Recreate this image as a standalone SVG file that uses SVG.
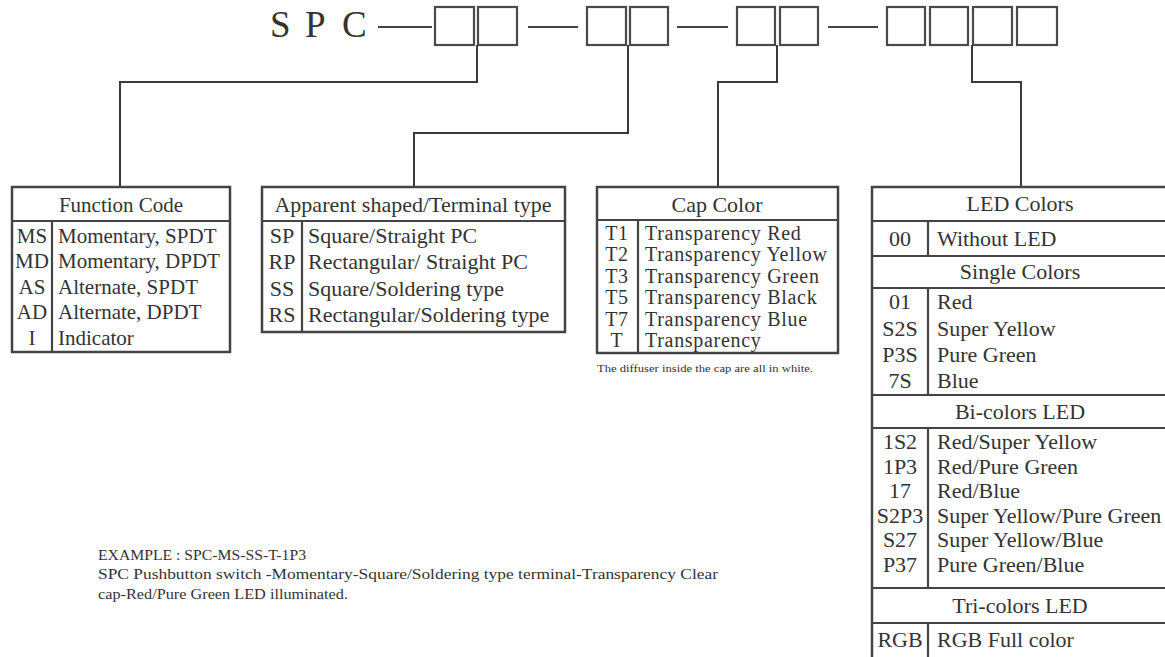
<svg xmlns="http://www.w3.org/2000/svg" width="1165" height="657" viewBox="0 0 1165 657">
<style>
text{font-family:"Liberation Serif","Times New Roman",serif;fill:#333}
.t{font-size:22px}
.f{font-size:21px}
.k{font-size:20px;letter-spacing:0.7px}
.c{text-anchor:middle}
.box{fill:none;stroke:#444;stroke-width:2.5}
.ln{fill:none;stroke:#444;stroke-width:2.2}
.sq{fill:#fff;stroke:#4a4a4a;stroke-width:2.2}
.con{fill:none;stroke:#3a3a3a;stroke-width:2}
.ex{font-size:15px}
</style>
<rect width="1165" height="657" fill="#fff"/>
<g id="code">
<text x="270" y="37" style="font-size:37px">S</text>
<text x="305" y="37" style="font-size:37px">P</text>
<text x="342" y="37" style="font-size:37px">C</text>
<g class="ln">
<line x1="378" y1="27" x2="432" y2="27"/>
<line x1="528" y1="27" x2="578" y2="27"/>
<line x1="677" y1="27" x2="728" y2="27"/>
<line x1="828" y1="27" x2="878" y2="27"/>
</g>
<g class="sq">
<rect x="435" y="7" width="39" height="38"/>
<rect x="478" y="7" width="39" height="38"/>
<rect x="587" y="7" width="39" height="38"/>
<rect x="630" y="7" width="38" height="38"/>
<rect x="737" y="7" width="38" height="38"/>
<rect x="780" y="7" width="38" height="38"/>
<rect x="887" y="7" width="38" height="38"/>
<rect x="930" y="7" width="38" height="38"/>
<rect x="973" y="7" width="39" height="38"/>
<rect x="1017" y="7" width="40" height="38"/>
</g>
</g>
<g id="connectors" class="con">
<polyline points="477,45 477,82 120,82 120,187"/>
<polyline points="628,45 628,133 414,133 414,187"/>
<polyline points="777,45 777,82 718,82 718,187"/>
<polyline points="972,45 972,82 1021,82 1021,187"/>
</g>
<g id="function-code">
<rect class="box" x="12" y="187" width="218" height="165"/>
<line class="ln" x1="12" y1="221" x2="230" y2="221"/>
<line class="ln" x1="52" y1="221" x2="52" y2="352"/>
<text class="f c" x="121" y="212">Function Code</text>
<text class="f c" x="32" y="243">MS</text><text class="f" x="58" y="243">Momentary, SPDT</text>
<text class="f c" x="32" y="268">MD</text><text class="f" x="58" y="268">Momentary, DPDT</text>
<text class="f c" x="32" y="294">AS</text><text class="f" x="58" y="294">Alternate, SPDT</text>
<text class="f c" x="32" y="319">AD</text><text class="f" x="58" y="319">Alternate, DPDT</text>
<text class="f c" x="32" y="345">I</text><text class="f" x="58" y="345">Indicator</text>
</g>
<g id="terminal-type">
<rect class="box" x="262" y="187" width="303" height="145"/>
<line class="ln" x1="262" y1="221" x2="565" y2="221"/>
<line class="ln" x1="302" y1="221" x2="302" y2="332"/>
<text class="t c" x="413" y="212">Apparent shaped/Terminal type</text>
<text class="t c" x="282" y="243">SP</text><text class="t" x="308" y="243">Square/Straight PC</text>
<text class="t c" x="282" y="269">RP</text><text class="t" x="308" y="269">Rectangular/ Straight PC</text>
<text class="t c" x="282" y="296">SS</text><text class="t" x="308" y="296">Square/Soldering type</text>
<text class="t c" x="282" y="322">RS</text><text class="t" x="308" y="322">Rectangular/Soldering type</text>
</g>
<g id="cap-color">
<rect class="box" x="597" y="187" width="241" height="166"/>
<line class="ln" x1="597" y1="220" x2="838" y2="220"/>
<line class="ln" x1="638" y1="220" x2="638" y2="353"/>
<text class="t c" x="717" y="212">Cap Color</text>
<text class="k c" x="617" y="240">T1</text><text class="k" x="645" y="240">Transparency Red</text>
<text class="k c" x="617" y="261">T2</text><text class="k" x="645" y="261">Transparency Yellow</text>
<text class="k c" x="617" y="283">T3</text><text class="k" x="645" y="283">Transparency Green</text>
<text class="k c" x="617" y="304">T5</text><text class="k" x="645" y="304">Transparency Black</text>
<text class="k c" x="617" y="326">T7</text><text class="k" x="645" y="326">Transparency Blue</text>
<text class="k c" x="617" y="347">T</text><text class="k" x="645" y="347">Transparency</text>
<text x="597" y="372" style="font-size:11px" textLength="216" lengthAdjust="spacingAndGlyphs">The diffuser inside the cap are all in white.</text>
</g>
<g id="led-colors">
<rect class="box" x="872" y="187" width="296" height="475"/>
<g class="ln">
<line x1="872" y1="221" x2="1168" y2="221"/>
<line x1="872" y1="256" x2="1168" y2="256"/>
<line x1="872" y1="288" x2="1168" y2="288"/>
<line x1="872" y1="395" x2="1168" y2="395"/>
<line x1="872" y1="428" x2="1168" y2="428"/>
<line x1="872" y1="588" x2="1168" y2="588"/>
<line x1="872" y1="623" x2="1168" y2="623"/>
<line x1="928" y1="221" x2="928" y2="256"/>
<line x1="928" y1="288" x2="928" y2="395"/>
<line x1="928" y1="428" x2="928" y2="588"/>
<line x1="928" y1="623" x2="928" y2="662"/>
</g>
<text class="t c" x="1020" y="211">LED Colors</text>
<text class="t c" x="900" y="246">00</text><text class="t" x="937" y="246">Without LED</text>
<text class="t c" x="1020" y="279">Single Colors</text>
<text class="t c" x="900" y="309">01</text><text class="t" x="937" y="309">Red</text>
<text class="t c" x="900" y="336">S2S</text><text class="t" x="937" y="336">Super Yellow</text>
<text class="t c" x="900" y="362">P3S</text><text class="t" x="937" y="362">Pure Green</text>
<text class="t c" x="900" y="388">7S</text><text class="t" x="937" y="388">Blue</text>
<text class="t c" x="1020" y="419">Bi-colors LED</text>
<text class="t c" x="900" y="449">1S2</text><text class="t" x="937" y="449">Red/Super Yellow</text>
<text class="t c" x="900" y="474">1P3</text><text class="t" x="937" y="474">Red/Pure Green</text>
<text class="t c" x="900" y="498">17</text><text class="t" x="937" y="498">Red/Blue</text>
<text class="t c" x="900" y="523">S2P3</text><text class="t" x="937" y="523">Super Yellow/Pure Green</text>
<text class="t c" x="900" y="547">S27</text><text class="t" x="937" y="547">Super Yellow/Blue</text>
<text class="t c" x="900" y="572">P37</text><text class="t" x="937" y="572">Pure Green/Blue</text>
<text class="t c" x="1020" y="613">Tri-colors LED</text>
<text class="t c" x="900" y="647">RGB</text><text class="t" x="937" y="647">RGB Full color</text>
</g>
<g id="example">
<text class="ex" x="98" y="560" textLength="208" lengthAdjust="spacingAndGlyphs">EXAMPLE : SPC-MS-SS-T-1P3</text>
<text class="ex" x="98" y="579" textLength="620" lengthAdjust="spacingAndGlyphs">SPC Pushbutton switch -Momentary-Square/Soldering type terminal-Transparency Clear</text>
<text class="ex" x="98" y="599" textLength="250" lengthAdjust="spacingAndGlyphs">cap-Red/Pure Green LED illuminated.</text>
</g>
</svg>
